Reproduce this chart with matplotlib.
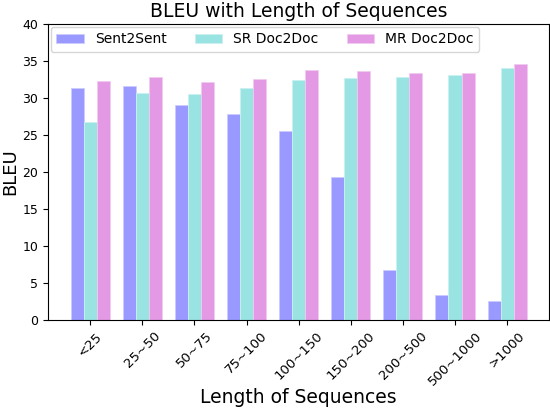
import numpy as np
import matplotlib
matplotlib.use("Agg")
from matplotlib import pyplot as plt

# BLEU by length bucket
buckets = ["<25", "25~50", "50~75", "75~100", "100~150", "150~200", "200~500", "500~1000", ">1000"]
sent2sent = [31.4, 31.6, 29.0, 27.8, 25.5, 19.3, 6.7, 3.4, 2.6]
sr_doc2doc = [26.8, 30.7, 30.5, 31.4, 32.4, 32.7, 32.9, 33.1, 34.0]
mr_doc2doc = [32.3, 32.9, 32.1, 32.6, 33.8, 33.7, 33.4, 33.4, 34.6]

x = np.arange(len(buckets))
w = 0.25

fig, ax = plt.subplots(figsize=(5.5, 4.08), dpi=100)
ax.bar(x - w, sent2sent, w, color="#9999ff", edgecolor="#ccccff", linewidth=0.6, label="Sent2Sent")
ax.bar(x, sr_doc2doc, w, color="#99e3e3", edgecolor="#ccf1f1", linewidth=0.6, label="SR Doc2Doc")
ax.bar(x + w, mr_doc2doc, w, color="#e399e3", edgecolor="#f1ccf1", linewidth=0.6, label="MR Doc2Doc")

ax.set_ylim(0, 40)
ax.set_xticks(x)
ax.set_xticklabels(buckets, rotation=45, fontsize=9.5)
ax.tick_params(axis="y", labelsize=9)
ax.set_title("BLEU with Length of Sequences", fontsize=13.5, pad=5)
ax.set_xlabel("Length of Sequences", fontsize=13.5)
ax.set_ylabel("BLEU", fontsize=13)
ax.xaxis.set_label_coords(0.5, -0.232)
ax.yaxis.set_label_coords(-0.058, 0.5)
ax.legend(loc="upper left", ncol=3, borderaxespad=0.2)

fig.subplots_adjust(left=0.087, right=0.999, top=0.941, bottom=0.216)
fig.savefig("out.png")
